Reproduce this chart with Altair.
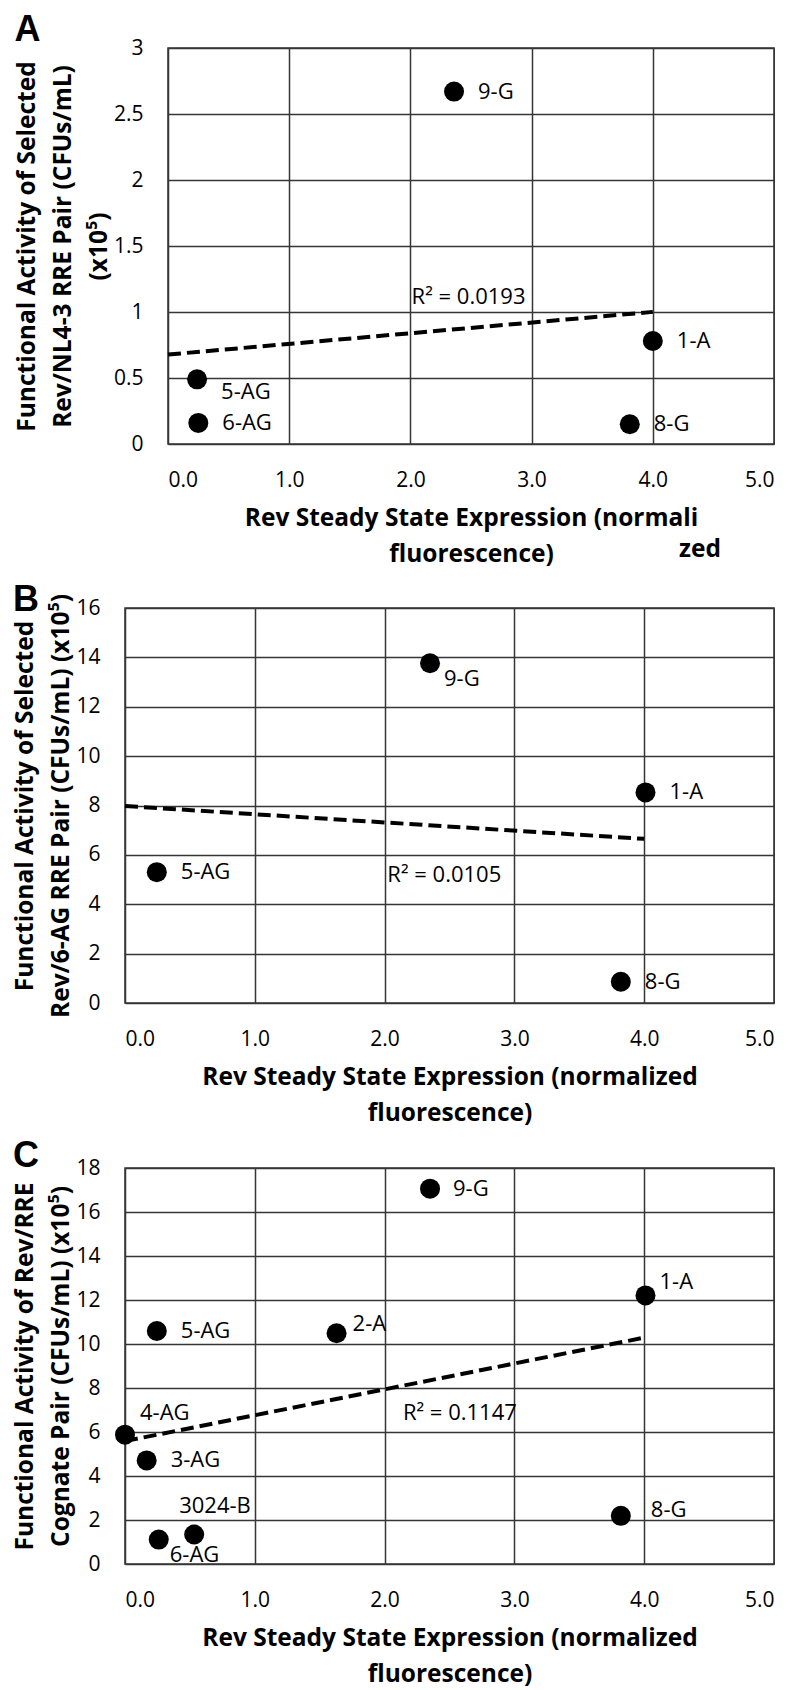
import altair as alt
import pandas as pd

# ---------------- data ----------------
# Panel A : Rev/NL4-3 RRE pair
a_labels = ["9-G", "1-A", "5-AG", "6-AG", "8-G"]
a_x = [2.36, 4.00, 0.24, 0.25, 3.81]
a_y = [2.67, 0.78, 0.49, 0.16, 0.15]
a_r2 = "R\u00b2 = 0.0193"

# Panel B : Rev/6-AG RRE pair
b_labels = ["9-G", "1-A", "5-AG", "8-G"]
b_x = [2.35, 4.01, 0.245, 3.82]
b_y = [13.76, 8.53, 5.30, 0.86]
b_r2 = "R\u00b2 = 0.0105"

# Panel C : Rev/RRE cognate pair
c_labels = ["9-G", "1-A", "5-AG", "2-A", "4-AG", "3-AG", "3024-B", "6-AG", "8-G"]
c_x = [2.35, 4.01, 0.245, 1.63, 0.0, 0.167, 0.533, 0.26, 3.82]
c_y = [17.06, 12.21, 10.59, 10.49, 5.88, 4.71, 1.34, 1.11, 2.19]
c_r2 = "R\u00b2 = 0.1147"

x_ticks = [0, 1, 2, 3, 4, 5]

# label placement (pixel offsets from the dot centre) -- styling only
OFFS = {
    "A": {"9-G": (24, 0), "1-A": (24, 0), "5-AG": (24, 13), "6-AG": (24, 0), "8-G": (24, 0)},
    "B": {"9-G": (14, 16), "1-A": (24, 0), "5-AG": (24, 0), "8-G": (24, 0)},
    "C": {"9-G": (23, 0), "1-A": (14, -13), "5-AG": (24, 0), "2-A": (16, -9),
          "4-AG": (15, -22), "3-AG": (24, 0), "3024-B": (-15, -29), "6-AG": (11, 15),
          "8-G": (30, -6)},
}

GRID = "#363636"
FONT = "Open Sans"


def panel(key, labels, xs, ys, r2, r2_pos, ydom, ystep, ytitle, xtitle,
          width, height, title_offset, extra=None):
    offs = OFFS[key]
    df = pd.DataFrame({"x": xs, "y": ys, "label": labels})
    yvals = []
    v = ydom[0]
    while v <= ydom[1] + 1e-9:
        yvals.append(round(v, 3))
        v += ystep

    xenc = alt.X("x:Q", scale=alt.Scale(domain=[0, 5], nice=False, zero=False),
                 axis=alt.Axis(values=x_ticks, format=".1f", grid=True, gridColor=GRID,
                               gridWidth=1.5, gridOpacity=1, ticks=False, domain=False,
                               labelFont=FONT, labelFontSize=21, labelColor="black",
                               labelPadding=25, title=xtitle, titleFont=FONT,
                               titleFontWeight="bold", titleFontSize=24.5, titleColor="black",
                               titlePadding=16, titleLineHeight=36))
    yenc = alt.Y("y:Q", scale=alt.Scale(domain=ydom, nice=False, zero=False),
                 axis=alt.Axis(values=yvals, format="~g", grid=True, gridColor=GRID,
                               gridWidth=1.5, gridOpacity=1, ticks=False, domain=False,
                               labelFont=FONT, labelFontSize=21, labelColor="black",
                               labelPadding=25, title=ytitle, titleFont=FONT,
                               titleFontWeight="bold", titleFontSize=24.5, titleColor="black",
                               titlePadding=2, titleLineHeight=36))

    base = alt.Chart(df)
    pts = base.mark_circle(size=400, color="black", opacity=1).encode(x=xenc, y=yenc)
    trend = base.transform_regression("x", "y", extent=[0, 4.0]).mark_line(
        color="black", strokeWidth=4, strokeDash=[13, 6]).encode(x="x:Q", y="y:Q")
    layers = [pts, trend]

    groups = {}
    for l in labels:
        groups.setdefault(offs[l], []).append(l)
    for (dx, dy), labs in groups.items():
        layers.append(
            base.transform_filter(alt.FieldOneOfPredicate(field="label", oneOf=labs))
            .mark_text(align="left", baseline="middle", font=FONT, fontSize=22,
                       color="black", dx=dx, dy=dy)
            .encode(x="x:Q", y="y:Q", text="label:N"))

    r2t = alt.Chart(pd.DataFrame({"t": [r2]})).mark_text(
        align="center", baseline="middle", font=FONT, fontSize=22, color="black").encode(
        x=alt.datum(r2_pos[0]), y=alt.datum(r2_pos[1]), text="t:N")
    layers.append(r2t)
    if extra is not None:
        layers.append(extra)
    return alt.layer(*layers).properties(
        width=width, height=height,
        title=alt.TitleParams(key, anchor="start", frame="bounds", font="Liberation Sans",
                              fontSize=36, fontWeight="bold", color="black",
                              offset=title_offset))


zed = alt.Chart(pd.DataFrame({"t": ["zed"]})).mark_text(
    align="center", baseline="middle", font=FONT, fontSize=24.5, fontWeight="bold",
    color="black").encode(x=alt.datum(4.39), y=alt.datum(-0.80), text="t:N")

chartA = panel("A", a_labels, a_x, a_y, a_r2, (2.48, 1.11), [0, 3], 0.5,
               ["Functional Activity of Selected", "Rev/NL4-3 RRE Pair (CFUs/mL)", "(x10\u2075)"],
               ["Rev Steady State Expression (normali", "fluorescence)"],
               606, 396, -11.5, extra=zed)
chartB = panel("B", b_labels, b_x, b_y, b_r2, (2.46, 5.19), [0, 16], 2,
               ["Functional Activity of Selected", "Rev/6-AG RRE Pair (CFUs/mL) (x10\u2075)"],
               ["Rev Steady State Expression (normalized", "fluorescence)"],
               649, 395, -25.5)
chartC = panel("C", c_labels, c_x, c_y, c_r2, (2.58, 6.86), [0, 18], 2,
               ["Functional Activity of Rev/RRE", "Cognate Pair (CFUs/mL) (x10\u2075)"],
               ["Rev Steady State Expression (normalized", "fluorescence)"],
               649, 396, -17.5)

# invisible spacer that pushes panel A's plot 43 px to the right of B and C
spacer = alt.Chart(pd.DataFrame({"s": [0]})).mark_point(opacity=0).encode(
    x=alt.X("s:Q", axis=None), y=alt.Y("s:Q", axis=None)
).properties(width=43, height=396,
             view=alt.ViewBackground(stroke="transparent", fill="transparent"))

rowA = alt.hconcat(spacer, chartA, spacing=0, bounds="flush")
rowB = alt.hconcat(chartB, spacing=0, bounds="flush")
rowC = alt.hconcat(chartC, spacing=0, bounds="flush")

# each row starts 560 px below the previous one
chart = alt.vconcat(rowA, rowB, rowC, spacing=560, bounds="flush").properties(
    padding={"left": 4, "top": 2, "right": 0, "bottom": 0}
).configure_view(stroke=GRID, strokeWidth=1.5)

chart.save("out.html", embed_options={"renderer": "svg", "actions": False})
